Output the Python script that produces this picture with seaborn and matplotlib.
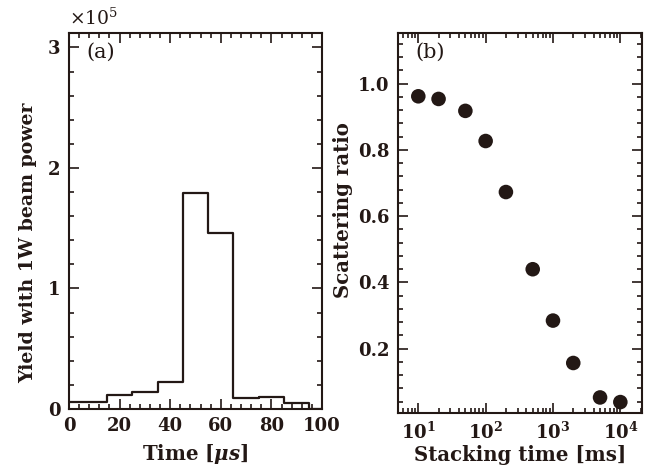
import numpy as np
import pandas as pd
import matplotlib
matplotlib.use('Agg')
import matplotlib.pyplot as plt
import seaborn as sns
from matplotlib.ticker import MultipleLocator, LogLocator, NullFormatter

# (a) yield per time bin, units of 1e5
bin_edges = [0, 15, 25, 35, 45, 55, 65, 75, 85, 95, 100]
bin_yield = [0.061, 0.117, 0.144, 0.222, 1.789, 1.464, 0.089, 0.103, 0.053, 0.0]

# (b) scattering ratio vs stacking time
stack_time = [10, 20, 50, 100, 200, 500, 1000, 2000, 5000, 10000]
scatter_ratio = [0.962, 0.954, 0.918, 0.827, 0.673, 0.440, 0.285, 0.157, 0.053, 0.039]

INK = '#231815'

sns.set_style('ticks')
plt.rcParams['font.family'] = ['DejaVu Serif']
plt.rcParams['font.weight'] = 'bold'
plt.rcParams['axes.labelweight'] = 'bold'
plt.rcParams['mathtext.fontset'] = 'dejavuserif'
plt.rcParams['mathtext.default'] = 'bf'
plt.rcParams['text.color'] = INK
plt.rcParams['axes.labelcolor'] = INK
plt.rcParams['xtick.color'] = INK
plt.rcParams['ytick.color'] = INK
plt.rcParams['axes.edgecolor'] = INK

fig = plt.figure(figsize=(6.54, 4.67), dpi=100)
ax1 = fig.add_axes([0.1055, 0.1242, 0.3869, 0.8051])
ax2 = fig.add_axes([0.6086, 0.1156, 0.3731, 0.8137])

hist_df = pd.DataFrame({
    'centre': [(a + b) / 2 for a, b in zip(bin_edges[:-1], bin_edges[1:])],
    'yield': bin_yield,
})
sns.histplot(data=hist_df, x='centre', weights='yield', bins=bin_edges,
             element='step', fill=False, color=INK, linewidth=1.6, ax=ax1)
ax1.set_xlim(0, 100)
ax1.set_ylim(0, 3.12)
ax1.xaxis.set_major_locator(MultipleLocator(20))
ax1.xaxis.set_minor_locator(MultipleLocator(4))
ax1.yaxis.set_major_locator(MultipleLocator(1))
ax1.yaxis.set_minor_locator(MultipleLocator(0.2))
ax1.set_xlabel(r'Time [$\mathit{\mu s}$]', fontsize=14.2)
ax1.set_ylabel('Yield with 1W beam power', fontsize=13.6)
ax1.xaxis.set_label_coords(0.5, -0.088)
ax1.yaxis.set_label_coords(-0.126, 0.441)
ax1.text(0.0, 1.01, r'$\mathregular{\times10^{5}}$', transform=ax1.transAxes,
         fontsize=13.5, fontweight='normal', ha='left', va='bottom')
ax1.text(0.07, 0.975, '(a)', transform=ax1.transAxes, fontsize=15,
         fontweight='normal', ha='left', va='top')

sns.scatterplot(x=stack_time, y=scatter_ratio, color=INK, s=110,
                edgecolor='none', ax=ax2)
ax2.set_xscale('log')
ax2.set_xlim(5, 2.1e4)
ax2.set_ylim(0.006, 1.153)
ax2.xaxis.set_minor_locator(LogLocator(base=10, subs=np.arange(2, 10), numticks=10))
ax2.xaxis.set_minor_formatter(NullFormatter())
ax2.set_xticks([10, 100, 1000, 10000])
ax2.set_xticklabels([r'$\mathbf{10^{1}}$', r'$\mathbf{10^{2}}$',
                     r'$\mathbf{10^{3}}$', r'$\mathbf{10^{4}}$'])
ax2.set_yticks([0.2, 0.4, 0.6, 0.8, 1.0])
ax2.set_yticklabels(['0.2', '0.4', '0.6', '0.8', '1.0'])
ax2.yaxis.set_minor_locator(MultipleLocator(0.04))
ax2.set_xlabel('Stacking time [ms]', fontsize=14.2)
ax2.set_ylabel('Scattering ratio', fontsize=14.2)
ax2.xaxis.set_label_coords(0.5, -0.084)
ax2.yaxis.set_label_coords(-0.184, 0.534)
ax2.text(0.07, 0.975, '(b)', transform=ax2.transAxes, fontsize=15,
         fontweight='normal', ha='left', va='top')

for ax in (ax1, ax2):
    for sp in ax.spines.values():
        sp.set_visible(True)
        sp.set_linewidth(1.5)
    ax.tick_params(which='both', direction='in', top=True, right=True,
                   labelsize=13, width=1.2)
    ax.tick_params(which='major', length=7, pad=6)
    ax.tick_params(which='minor', length=3.5)
    for lab in ax.get_xticklabels() + ax.get_yticklabels():
        lab.set_fontweight('bold')

fig.savefig('out.png', dpi=100)
